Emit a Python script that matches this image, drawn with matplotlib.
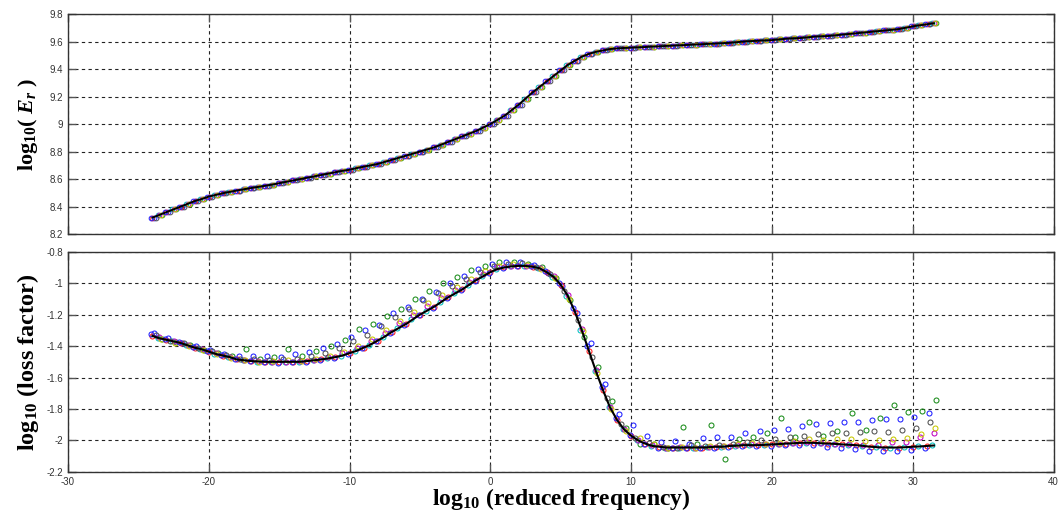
import numpy as np
import matplotlib.pyplot as plt
from matplotlib.ticker import FormatStrFormatter

plt.rcParams['font.family'] = ['Liberation Sans', 'DejaVu Sans']
plt.rcParams['axes.unicode_minus'] = False
plt.rcParams['mathtext.fontset'] = 'custom'
plt.rcParams['mathtext.rm'] = 'Liberation Serif:bold'
plt.rcParams['mathtext.it'] = 'Liberation Serif:bold:italic'
plt.rcParams['mathtext.bf'] = 'Liberation Serif:bold'

# log10 reduced frequency grid (whole and half steps)
freq = [-24, -23, -22, -21, -20, -19, -18, -17, -16, -15, -14, -13, -12, -11,
        -10, -9, -8, -7, -6, -5, -4, -3, -2, -1, 0, 1, 2, 3, 4, 5, 6, 7, 8, 9,
        10, 11, 12, 13, 14, 15, 16, 17, 18, 19, 20, 21, 22, 23, 24, 25, 26, 27,
        28, 29, 30, 31]
freq_half = [-23.5, -22.5, -21.5, -20.5, -19.5, -18.5, -17.5, -16.5, -15.5,
             -14.5, -13.5, -12.5, -11.5, -10.5, -9.5, -8.5, -7.5, -6.5, -5.5,
             -4.5, -3.5, -2.5, -1.5, -0.5, 0.5, 1.5, 2.5, 3.5, 4.5, 5.5, 6.5,
             7.5, 8.5, 9.5, 10.5, 11.5, 12.5, 13.5, 14.5, 15.5, 16.5, 17.5,
             18.5, 19.5, 20.5, 21.5, 22.5, 23.5, 24.5, 25.5, 26.5, 27.5, 28.5,
             29.5, 30.5, 31.5]

# master curve, log10(Er)
top_int = [8.32, 8.36, 8.40, 8.44, 8.473, 8.497, 8.517, 8.535, 8.551, 8.57,
           8.59, 8.61, 8.63, 8.65, 8.668, 8.69, 8.71, 8.74, 8.77, 8.80,
           8.83, 8.87, 8.91, 8.95, 9.00, 9.06, 9.14, 9.23, 9.31, 9.39,
           9.46, 9.51, 9.535, 9.55, 9.555, 9.56, 9.565, 9.57, 9.575, 9.58,
           9.585, 9.59, 9.60, 9.605, 9.61, 9.62, 9.625, 9.635, 9.64, 9.65,
           9.66, 9.67, 9.68, 9.69, 9.71, 9.725]
top_half = [8.34, 8.38, 8.42, 8.455, 8.485, 8.507, 8.526, 8.543, 8.56, 8.58,
            8.60, 8.62, 8.64, 8.66, 8.68, 8.70, 8.725, 8.755, 8.785, 8.815,
            8.85, 8.89, 8.93, 8.975, 9.03, 9.10, 9.185, 9.27, 9.35, 9.43,
            9.49, 9.525, 9.545, 9.553, 9.558, 9.563, 9.568, 9.573, 9.578, 9.583,
            9.588, 9.595, 9.603, 9.608, 9.615, 9.623, 9.63, 9.638, 9.645, 9.655,
            9.665, 9.675, 9.685, 9.70, 9.718, 9.733]

# master curve, log10(loss factor)
bot_int = [-1.335, -1.36, -1.38, -1.41, -1.435, -1.46, -1.485, -1.495, -1.50, -1.50,
           -1.50, -1.495, -1.485, -1.47, -1.445, -1.41, -1.365, -1.31, -1.26, -1.20,
           -1.15, -1.09, -1.04, -0.98, -0.93, -0.90, -0.89, -0.895, -0.93, -1.01,
           -1.18, -1.43, -1.68, -1.87, -1.97, -2.02, -2.04, -2.045, -2.045, -2.045,
           -2.04, -2.035, -2.03, -2.03, -2.025, -2.02, -2.015, -2.015, -2.02, -2.025,
           -2.03, -2.04, -2.045, -2.045, -2.04, -2.035]
bot_half = [-1.35, -1.37, -1.395, -1.42, -1.45, -1.47, -1.49, -1.498, -1.50, -1.50,
            -1.50, -1.49, -1.478, -1.46, -1.43, -1.39, -1.34, -1.285, -1.23, -1.175,
            -1.12, -1.065, -1.01, -0.955, -0.91, -0.893, -0.89, -0.905, -0.96, -1.08,
            -1.30, -1.56, -1.79, -1.93, -2.00, -2.035, -2.045, -2.045, -2.045, -2.043,
            -2.04, -2.033, -2.03, -2.028, -2.023, -2.018, -2.015, -2.018, -2.022, -2.028,
            -2.035, -2.043, -2.045, -2.043, -2.038, -2.032]

# measured loss factor per test series
bot_b = [-1.315, -1.35, -1.38, -1.40, -1.425, -1.45, -1.465, -1.46, -1.46, -1.47,
         -1.45, -1.44, -1.415, -1.385, -1.345, -1.30, -1.265, -1.19, -1.15, -1.10,
         -1.055, -1.00, -0.955, -0.91, -0.88, -0.865, -0.865, -0.885, -0.935, -1.02,
         -1.19, -1.38, -1.64, -1.83, -1.90, -1.97, -2.01, -2.005, -2.025, -1.985,
         -1.98, -1.975, -1.95, -1.94, -1.935, -1.93, -1.905, -1.895, -1.89, -1.885,
         -1.88, -1.87, -1.865, -1.865, -1.85, -1.825]
bot_g = [-1.355, -1.375, -1.39, -1.425, -1.445, -1.465, -1.42, -1.48, -1.47, -1.42,
         -1.46, -1.43, -1.40, -1.36, -1.29, -1.26, -1.21, -1.165, -1.10, -1.05,
         -1.00, -0.96, -0.915, -0.89, -0.865, -0.865, -0.875, -0.90, -0.97, -1.11,
         -1.34, -1.535, -1.75, -1.92, -2.025, -2.025, -2.045, -1.915, -2.025, -1.90,
         -2.12, -1.99, -1.98, -1.95, -1.855, -1.98, -1.885, -1.97, -1.94, -1.825,
         -1.935, -1.855, -1.775, -1.82, -1.81, -1.74]
bot_k = [-1.33, -1.365, -1.38, -1.415, -1.43, -1.455, -1.485, -1.485, -1.49, -1.48,
         -1.48, -1.465, -1.445, -1.415, -1.37, -1.33, -1.27, -1.215, -1.165, -1.11,
         -1.065, -1.02, -0.975, -0.93, -0.89, -0.88, -0.87, -0.895, -0.94, -1.05,
         -1.235, -1.47, -1.73, -1.895, -1.985, -2.015, -2.04, -2.045, -2.03, -2.035,
         -2.03, -2.025, -2.01, -2.00, -1.99, -1.98, -1.97, -1.96, -1.955, -1.955,
         -1.945, -1.94, -1.945, -1.935, -1.92, -1.885]
bot_y = [-1.355, -1.38, -1.40, -1.425, -1.45, -1.475, -1.49, -1.50, -1.495, -1.49,
         -1.495, -1.48, -1.46, -1.435, -1.40, -1.355, -1.30, -1.24, -1.18, -1.125,
         -1.075, -1.025, -0.975, -0.925, -0.89, -0.88, -0.885, -0.91, -0.97, -1.10,
         -1.305, -1.57, -1.80, -1.94, -1.985, -2.025, -2.045, -2.04, -2.045, -2.035,
         -2.035, -2.025, -2.015, -2.02, -2.015, -2.005, -1.99, -2.00, -1.99, -1.99,
         -2.005, -1.995, -1.99, -1.985, -1.96, -1.92]
bot_m = [-1.345, -1.37, -1.39, -1.42, -1.445, -1.47, -1.49, -1.495, -1.50, -1.50,
         -1.495, -1.49, -1.47, -1.445, -1.41, -1.37, -1.315, -1.255, -1.20, -1.145,
         -1.095, -1.045, -0.99, -0.94, -0.90, -0.888, -0.89, -0.905, -0.955, -1.075,
         -1.29, -1.55, -1.79, -1.93, -1.995, -2.03, -2.05, -2.04, -2.05, -2.04,
         -2.035, -2.03, -2.025, -2.025, -2.02, -2.015, -2.01, -2.015, -2.02, -2.025,
         -2.03, -2.03, -2.01, -2.01, -1.98, -1.955]
bot_b2 = [-1.325, -1.355, -1.375, -1.405, -1.43, -1.455, -1.48, -1.495, -1.50, -1.505,
          -1.50, -1.50, -1.49, -1.475, -1.45, -1.415, -1.37, -1.315, -1.265, -1.205,
          -1.155, -1.095, -1.045, -0.985, -0.935, -0.905, -0.89, -0.89, -0.925, -1.00,
          -1.16, -1.40, -1.66, -1.86, -1.965, -2.02, -2.045, -2.05, -2.05, -2.05,
          -2.045, -2.04, -2.035, -2.035, -2.035, -2.03, -2.03, -2.03, -2.04, -2.05,
          -2.055, -2.065, -2.07, -2.065, -2.06, -2.05]

# small shift factor residual per series (log10 units)
shift = {'b': 0.12, 'g': 0.15, 'r': 0.0, 'c': -0.1, 'm': 0.0, 'y': 0.1, 'k': 0.25, 'b2': -0.1}

colors = {'b': '#1f1fff', 'g': '#1a8c1a', 'r': '#ff1a1a', 'c': '#00bfbf',
          'm': '#c000c0', 'y': '#c8c800', 'k': '#505050', 'b2': '#1f1fff'}

series = [
    ('b', freq, top_int, bot_b),
    ('g', freq_half, top_half, bot_g),
    ('r', freq, top_int, bot_int),
    ('c', freq_half, top_half, bot_half),
    ('m', freq_half, top_half, bot_m),
    ('y', freq_half, top_half, bot_y),
    ('k', freq, top_int, bot_k),
    ('b2', freq, top_int, bot_b2),
]

fig = plt.figure(figsize=(10.61, 5.18), dpi=100)
ax1 = fig.add_axes([0.064, 0.548, 0.929, 0.425])
ax2 = fig.add_axes([0.064, 0.089, 0.929, 0.425])

for key, fx, ytop, ybot in series:
    xs = np.array(fx) + shift[key]
    ax1.plot(xs, ytop, 'o', mfc='none', mec=colors[key], ms=3.4, mew=0.7, zorder=3)
    ax2.plot(xs, ybot, 'o', mfc='none', mec=colors[key], ms=3.6, mew=0.75, zorder=3)

line_x = np.concatenate([freq, freq_half])
order = np.argsort(line_x)
ax1.plot(line_x[order], np.concatenate([top_int, top_half])[order], color='black', lw=1.4, zorder=4)
ax2.plot(line_x[order], np.concatenate([bot_int, bot_half])[order], color='black', lw=1.5, zorder=4)

for ax in (ax1, ax2):
    ax.set_xlim(-30, 40)
    ax.set_xticks(np.arange(-30, 41, 10))
    ax.grid(True, color='#222222', linestyle=(0, (3, 3)), linewidth=0.8)
    ax.set_axisbelow(True)
    ax.tick_params(direction='in', top=True, right=True, length=6, width=1,
                   labelsize=7, labelcolor='#333333', color='#555555')
    for s in ax.spines.values():
        s.set_color('#333333')
        s.set_linewidth(1.0)
    ax.yaxis.set_major_formatter(FormatStrFormatter('%g'))

ax1.set_ylim(8.2, 9.8)
ax1.set_yticks(np.arange(8.2, 9.81, 0.2))
ax1.tick_params(labelbottom=False)

ax2.set_ylim(-2.2, -0.8)
ax2.set_yticks(np.arange(-2.2, -0.79, 0.2))

lab = dict(family='Liberation Serif', fontweight='bold', va='center')
ax1.set_ylabel(r'log$_{10}$( $E_r$ )', fontsize=16, **lab)
ax1.yaxis.set_label_coords(-0.04, 0.5)
ax2.set_ylabel(r'log$_{10}$ (loss factor)', fontsize=17.5, **lab)
ax2.yaxis.set_label_coords(-0.04, 0.5)
ax2.set_xlabel(r'log$_{10}$ (reduced frequency)', fontsize=17, **lab)
ax2.xaxis.set_label_coords(0.5, -0.125)

fig.savefig('out.png', dpi=100)
